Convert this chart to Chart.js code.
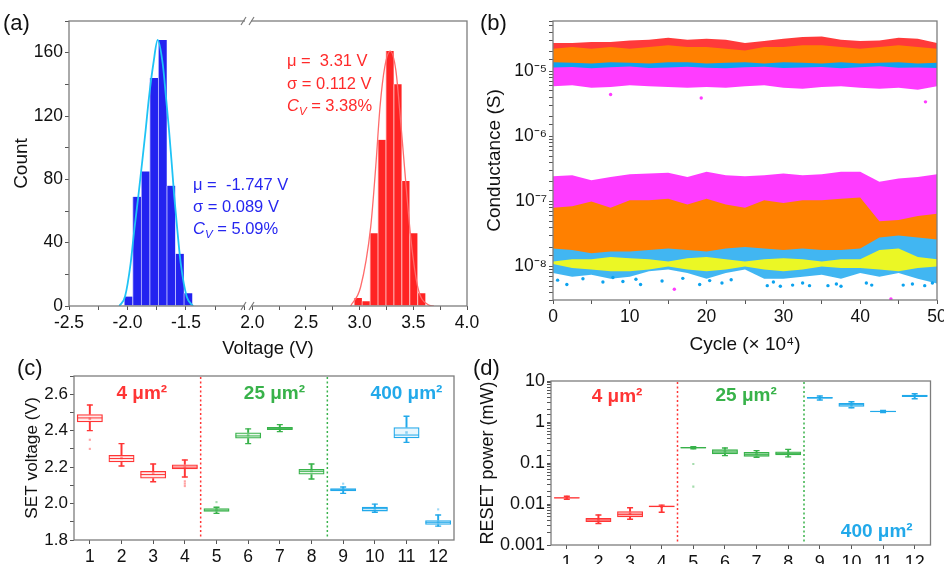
<!DOCTYPE html>
<html lang="en"><head><meta charset="utf-8"><title>Switching statistics</title>
<script src="https://cdn.jsdelivr.net/npm/chart.js@4.4.1/dist/chart.umd.min.js"></script>
<style>
html,body{margin:0;padding:0;background:#fff;}
#wrap{position:relative;width:944px;height:564px;overflow:hidden;background:#fff;font-family:'Liberation Sans',Arial,sans-serif;}
canvas{position:absolute;}
.lbl{position:absolute;font-size:22px;line-height:22px;color:#111;}
</style></head>
<body>
<div id="wrap">
<canvas id="ca" width="490" height="365" style="left:0;top:0;width:490px;height:365px"></canvas>
<canvas id="cb" width="500" height="365" style="left:470px;top:0;width:500px;height:365px"></canvas>
<canvas id="cc" width="470" height="230" style="left:0;top:355px;width:470px;height:230px"></canvas>
<canvas id="cd" width="474" height="230" style="left:470px;top:355px;width:474px;height:230px"></canvas>
<div class="lbl" style="left:3px;top:12px">(a)</div>
<div class="lbl" style="left:480px;top:12px">(b)</div>
<div class="lbl" style="left:17px;top:357px">(c)</div>
<div class="lbl" style="left:473px;top:357px">(d)</div>
</div>
<script>
// ================= DATA =================
// (a) histograms of switching voltages
const aBlueBins   = [-1.993,-1.920,-1.847,-1.774,-1.701,-1.628,-1.555,-1.482];
const aBlueCounts = [6,69,85,144,168,76,33,8];
const aRedBins    = [2.984,3.058,3.132,3.206,3.280,3.354,3.428,3.502,3.576];
const aRedCounts  = [5,3,46,105,161,140,79,46,8];
// (a) fitted curves
const aBlueFitV = [-2.07,-2.021,-1.973,-1.942,-1.908,-1.876,-1.845,-1.816,-1.779,-1.742,-1.699,-1.671,-1.645,-1.622,-1.600,-1.574,-1.545,-1.494,-1.44];
const aBlueFitN = [0,6,27,48,69,90,111,132,153,168,153,132,111,90,69,48,27,6,0];
const aRedFitV  = [2.916,3.009,3.103,3.150,3.190,3.234,3.284,3.337,3.384,3.431,3.478,3.541,3.634,3.69];
const aRedFitN  = [0,12,50,88,126,151,161,149,115,77,42,12,1,0];
const aBlueStats = ['-1.747','0.089','5.09'];
const aRedStats  = ['3.31','0.112','3.38'];
// (a) tick values that carry labels
const aYTicksLabelled = [0,40,80,120,160];
const aXLeftLabelled  = [-2.5,-2.0,-1.5];
const aXRightLabelled = [2.0,2.5,3.0,3.5,4.0];

// (b) conductance bands vs cycle (x 10^4), read as envelopes
const bCycles = [0,2.5,5,7.5,10,12.5,15,17.5,20,22.5,25,27.5,30,32.5,35,37.5,40,42.5,45,47.5,50];
const bLrsRedTop = [2.72e-5,2.72e-5,2.82e-5,2.82e-5,2.99e-5,3.06e-5,3.28e-5,3.06e-5,3.17e-5,3.06e-5,2.72e-5,2.92e-5,3.17e-5,3.36e-5,3.44e-5,3.06e-5,2.92e-5,2.99e-5,3.28e-5,3.17e-5,2.72e-5];
const bLrsRedBot = [2.05e-5,2.10e-5,2.05e-5,2.10e-5,2.10e-5,2.05e-5,2.10e-5,2.10e-5,2.05e-5,2.10e-5,2.00e-5,2.05e-5,2.10e-5,2.10e-5,2.05e-5,2.10e-5,2.05e-5,2.10e-5,2.10e-5,2.05e-5,2.00e-5];
const bLrsOrangeTop = [2.23e-5,2.36e-5,2.23e-5,2.36e-5,2.23e-5,2.36e-5,2.51e-5,2.36e-5,2.36e-5,2.23e-5,2.10e-5,2.36e-5,2.36e-5,2.51e-5,2.51e-5,2.36e-5,2.23e-5,2.36e-5,2.51e-5,2.36e-5,2.23e-5];
const bLrsOrangeBot = [1.38e-5,1.36e-5,1.32e-5,1.38e-5,1.36e-5,1.32e-5,1.38e-5,1.38e-5,1.32e-5,1.36e-5,1.38e-5,1.32e-5,1.38e-5,1.36e-5,1.32e-5,1.38e-5,1.32e-5,1.36e-5,1.38e-5,1.32e-5,1.36e-5];
const bLrsBlueTop = [1.45e-5,1.50e-5,1.40e-5,1.45e-5,1.50e-5,1.40e-5,1.50e-5,1.45e-5,1.40e-5,1.45e-5,1.40e-5,1.45e-5,1.50e-5,1.40e-5,1.45e-5,1.50e-5,1.45e-5,1.60e-5,1.50e-5,1.45e-5,1.40e-5];
const bLrsBlueBot = [1.02e-5,1.00e-5,1.03e-5,1.00e-5,1.02e-5,1.01e-5,1.02e-5,1.00e-5,1.03e-5,1.00e-5,1.02e-5,1.01e-5,1.02e-5,1.00e-5,1.03e-5,1.00e-5,1.02e-5,1.00e-5,1.02e-5,1.01e-5,1.02e-5];
const bLrsMagentaTop = [1.15e-5,1.17e-5,1.12e-5,1.16e-5,1.19e-5,1.13e-5,1.15e-5,1.18e-5,1.14e-5,1.12e-5,1.16e-5,1.18e-5,1.13e-5,1.15e-5,1.17e-5,1.12e-5,1.16e-5,1.20e-5,1.14e-5,1.15e-5,1.13e-5];
const bLrsMagentaBot = [5.89e-6,6.10e-6,5.62e-6,5.75e-6,6.10e-6,5.89e-6,5.75e-6,5.62e-6,5.75e-6,5.62e-6,5.89e-6,6.10e-6,5.62e-6,5.42e-6,5.75e-6,5.89e-6,5.62e-6,5.42e-6,5.62e-6,5.23e-6,5.89e-6];
const bHrsMagentaTop = [2.45e-7,2.54e-7,2.13e-7,2.39e-7,2.63e-7,2.70e-7,2.76e-7,2.39e-7,2.86e-7,2.54e-7,2.45e-7,2.54e-7,2.70e-7,2.54e-7,2.63e-7,2.86e-7,2.86e-7,2.01e-7,2.26e-7,2.39e-7,2.63e-7];
const bHrsMagentaBot = [6.0e-8,6.2e-8,5.8e-8,6.1e-8,6.0e-8,5.9e-8,6.2e-8,6.0e-8,5.8e-8,6.1e-8,6.0e-8,6.2e-8,5.9e-8,6.0e-8,6.1e-8,5.8e-8,5.5e-8,4.4e-8,4.6e-8,5.0e-8,5.5e-8];
const bHrsOrangeTop = [8.0e-8,8.5e-8,1.0e-7,8.0e-8,1.05e-7,1.05e-7,1.10e-7,9.0e-8,1.10e-7,9.0e-8,8.0e-8,1.05e-7,9.5e-8,1.05e-7,1.05e-7,1.10e-7,1.15e-7,5.0e-8,5.2e-8,6.0e-8,6.5e-8];
const bHrsOrangeBot = [1.9e-8,1.8e-8,1.6e-8,1.7e-8,1.7e-8,1.8e-8,1.9e-8,1.8e-8,1.7e-8,1.9e-8,2.0e-8,1.9e-8,1.8e-8,1.9e-8,1.8e-8,1.8e-8,1.9e-8,2.8e-8,3.0e-8,2.8e-8,2.6e-8];
const bHrsYellowTop = [1.20e-8,1.30e-8,1.30e-8,1.40e-8,1.35e-8,1.30e-8,1.20e-8,1.35e-8,1.40e-8,1.30e-8,1.20e-8,1.30e-8,1.35e-8,1.30e-8,1.20e-8,1.30e-8,1.30e-8,1.80e-8,1.90e-8,1.40e-8,1.30e-8];
const bHrsYellowBot = [1.10e-8,9.5e-9,9.0e-9,8.5e-9,8.5e-9,9.0e-9,1.00e-8,9.0e-9,8.5e-9,9.0e-9,1.00e-8,9.0e-9,8.5e-9,9.0e-9,1.00e-8,9.5e-9,9.5e-9,9.0e-9,8.5e-9,9.5e-9,1.00e-8];
const bHrsBlueTop = [3.5e-8,3.5e-8,3.5e-8,3.5e-8,3.5e-8,3.5e-8,3.5e-8,3.5e-8,3.5e-8,3.5e-8,3.5e-8,3.5e-8,3.5e-8,3.5e-8,3.5e-8,3.5e-8,5.5e-8,5.0e-8,5.2e-8,5.6e-8,6.0e-8];
const bHrsBlueBot = [8.0e-9,7.0e-9,7.5e-9,6.5e-9,7.0e-9,8.5e-9,9.0e-9,8.0e-9,6.5e-9,8.0e-9,9.0e-9,6.5e-9,6.5e-9,7.0e-9,7.5e-9,6.5e-9,8.0e-9,7.0e-9,8.0e-9,6.5e-9,5.5e-9];
// (b) isolated points
const bBlueDotCycle = [0.6,1.8,3.9,6.5,7.8,9.1,10.8,11.4,14.2,16.9,19.1,20.4,22.0,23.2,27.9,28.7,29.6,31.2,32.5,33.4,35.8,36.9,37.5,40.8,41.5,45.6,46.8,48.4,49.4];
const bBlueDotG     = [6.2e-9,5.3e-9,6.5e-9,5.8e-9,6.8e-9,5.9e-9,6.4e-9,5.3e-9,6.0e-9,6.6e-9,5.3e-9,6.1e-9,5.6e-9,6.3e-9,5.1e-9,5.8e-9,5.0e-9,5.2e-9,5.6e-9,5.1e-9,5.1e-9,5.4e-9,5.0e-9,5.6e-9,5.2e-9,5.2e-9,5.4e-9,5.1e-9,5.6e-9];
const bMagentaDotCycle = [7.5,19.3,48.5,15.8,44.0];
const bMagentaDotG     = [4.4e-6,3.9e-6,3.4e-6,4.5e-9,3.2e-9];

// (c) SET voltage box plots, devices 1-12
const devLabels = ['1','2','3','4','5','6','7','8','9','10','11','12'];
const devGroup  = [0,0,0,0,1,1,1,1,2,2,2,2];
const cQ1   = [2.446,2.226,2.137,2.188,1.955,2.357,2.404,2.159,2.067,1.957,2.358,1.884];
const cQ3   = [2.490,2.267,2.179,2.215,1.974,2.390,2.420,2.190,2.084,1.983,2.419,1.909];
const cMed  = [2.470,2.247,2.159,2.200,1.964,2.371,2.413,2.177,2.076,1.972,2.376,1.897];
const cMean = [2.465,2.250,2.165,2.198,1.966,2.375,2.414,2.178,2.077,1.972,2.390,1.897];
const cLo   = [2.400,2.206,2.120,2.146,1.946,2.329,2.395,2.135,2.056,1.952,2.336,1.876];
const cHi   = [2.541,2.329,2.217,2.239,1.980,2.410,2.433,2.217,2.091,1.997,2.479,1.937];
const cOutDev = ['1','1','4','4','4','5','9','12'];
const cOutV   = [2.35,2.30,2.122,2.109,2.096,2.008,2.109,1.968];

// (d) RESET power box plots (mW)
const dQ1   = [0.0136,0.00364,0.00473,0.0083,0.226,0.163,0.143,0.154,3.70,2.36,1.73,4.07];
const dQ3   = [0.0146,0.00456,0.00663,0.0092,0.246,0.215,0.185,0.190,4.07,2.91,1.88,4.64];
const dMed  = [0.0141,0.00408,0.0056,0.0087,0.236,0.185,0.163,0.172,3.90,2.64,1.81,4.38];
const dMean = [0.0142,0.0042,0.0058,0.0086,0.236,0.190,0.165,0.172,3.92,2.62,1.82,4.38];
const dLo   = [0.0131,0.00334,0.00424,0.0063,0.222,0.151,0.138,0.141,3.44,2.22,1.70,3.70];
const dHi   = [0.0155,0.00541,0.0081,0.0094,0.250,0.233,0.200,0.215,4.30,3.13,1.92,4.90];
const dOutDev = ['5','5'];
const dOutV   = [0.0946,0.0265];

// ================= STYLE =================
const FONT = "'Liberation Sans', Arial, Helvetica, sans-serif";
Chart.defaults.font.family = FONT;
Chart.defaults.color = '#111';
const FRAME = '#7d7d7d';
const groupColors = ['#ff3535','#38b24a','#22a9ea'];
const C_RED='#ff3a3a', C_ORANGE='#ff8000', C_MAGENTA='#ff3cff', C_BLUE='#0ca2ee', C_YELLOW='#ffff10';
function rgba(hex,a){const n=parseInt(hex.slice(1),16);return `rgba(${n>>16&255},${n>>8&255},${n&255},${a})`;}
const SUP={'-':'\u207B','0':'\u2070','1':'\u00B9','2':'\u00B2','3':'\u00B3','4':'\u2074','5':'\u2075','6':'\u2076','7':'\u2077','8':'\u2078','9':'\u2079'};
function pow10Sup(v){const e=Math.log10(v),r=Math.round(e);if(Math.abs(e-r)>1e-6)return '';return '10'+String(r).split('').map(c=>SUP[c]).join('');}
function pow10Dec(v){const e=Math.log10(v),r=Math.round(e);if(Math.abs(e-r)>1e-6)return '';return r>=0?String(Math.pow(10,r)):Math.pow(10,r).toFixed(-r);}
function grid(){return {drawOnChartArea:false,drawTicks:true,tickLength:4,tickColor:'#555',tickWidth:1,offset:false};}
let pid=0;
function framePlugin(extra){
  return {id:'frame'+(pid++),afterDatasetsDraw(chart){
    const {ctx,chartArea:a}=chart;ctx.save();ctx.strokeStyle=FRAME;ctx.lineWidth=1.3;
    ctx.strokeRect(a.left,a.top,a.right-a.left,a.bottom-a.top);ctx.restore();
    if(extra)extra(chart);}};
}
const base={responsive:false,animation:false,devicePixelRatio:1,plugins:{legend:{display:false},tooltip:{enabled:false}}};

// ================= (a) =================
function drawStats(ctx,x,y0,dy,st,color){
  const f=16.5;ctx.fillStyle=color;ctx.textBaseline='middle';ctx.textAlign='left';
  ctx.font=`${f}px ${FONT}`;
  ctx.fillText('\u03BC =  '+st[0]+' V',x,y0);
  ctx.fillText('\u03C3 = '+st[1]+' V',x,y0+dy);
  const y=y0+2*dy;ctx.font=`italic ${f}px ${FONT}`;ctx.fillText('C',x,y);
  const w=ctx.measureText('C').width;ctx.font=`italic 11.5px ${FONT}`;ctx.fillText('V',x+w,y+5);
  const w2=ctx.measureText('V').width;ctx.font=`${f}px ${FONT}`;ctx.fillText(' = '+st[2]+'%',x+w+w2,y);
}
const aExtra=(chart)=>{
  const ctx=chart.ctx,a=chart.chartArea,s=chart.scales,bx=s.xL.right;
  ctx.save();
  [a.top,a.bottom].forEach(y=>{
    ctx.fillStyle='#fff';ctx.fillRect(bx-3,y-2,6,4);
    ctx.strokeStyle=FRAME;ctx.lineWidth=1.2;ctx.beginPath();
    ctx.moveTo(bx-7,y+4);ctx.lineTo(bx-2,y-4);ctx.moveTo(bx+1,y+4);ctx.lineTo(bx+6,y-4);ctx.stroke();
  });
  const yb=s.y.getPixelForValue(76.4),yr=s.y.getPixelForValue(154.3),dy=s.y.getPixelForValue(0)-s.y.getPixelForValue(14.1);
  drawStats(ctx,s.xL.getPixelForValue(-1.44),yb,dy,aBlueStats,'#2626f0');
  drawStats(ctx,s.xR.getPixelForValue(2.323),yr,dy,aRedStats,'#ff2a2a');
  ctx.restore();
};
const labelIf=list=>v=>list.some(t=>Math.abs(t-v)<1e-6)?v.toFixed(1):'';
new Chart(document.getElementById('ca'),{
  type:'bar',
  data:{datasets:[
    {type:'line',xAxisID:'xL',yAxisID:'y',data:aBlueFitV.map((v,i)=>({x:v,y:aBlueFitN[i]})),borderColor:'#1fc3f5',borderWidth:1.8,pointRadius:0,cubicInterpolationMode:'monotone',fill:false},
    {type:'line',xAxisID:'xR',yAxisID:'y',data:aRedFitV.map((v,i)=>({x:v,y:aRedFitN[i]})),borderColor:'#ff6b6b',borderWidth:1.3,pointRadius:0,cubicInterpolationMode:'monotone',fill:false},
    {type:'bar',xAxisID:'xL',yAxisID:'y',data:aBlueBins.map((v,i)=>({x:v,y:aBlueCounts[i]})),backgroundColor:'#2323f0',borderColor:'rgba(185,185,255,0.95)',borderWidth:{left:1,right:0,top:0,bottom:0},barPercentage:1,categoryPercentage:1,grouped:false},
    {type:'bar',xAxisID:'xR',yAxisID:'y',data:aRedBins.map((v,i)=>({x:v,y:aRedCounts[i]})),backgroundColor:'#ff2424',borderColor:'rgba(255,190,190,0.95)',borderWidth:{left:1,right:0,top:0,bottom:0},barPercentage:1,categoryPercentage:1,grouped:false}
  ]},
  options:Object.assign({},base,{
    layout:{padding:{left:0,top:21,right:23,bottom:0}},
    scales:{
      xL:{type:'linear',position:'bottom',stack:'v',stackWeight:179,weight:0,min:-2.5,max:-0.97,offset:false,grid:grid(),border:{display:false},
        ticks:{stepSize:0.25,includeBounds:false,autoSkip:false,maxRotation:0,padding:3,color:'#111',font:{size:17.5},callback:labelIf(aXLeftLabelled)},afterFit:s=>{s.height=26;}},
      xR:{type:'linear',position:'bottom',stack:'v',stackWeight:219,weight:0,min:1.96,max:4.0,offset:false,grid:grid(),border:{display:false},
        ticks:{stepSize:0.25,includeBounds:false,autoSkip:false,maxRotation:0,padding:3,color:'#111',font:{size:17.5},callback:labelIf(aXRightLabelled)},afterFit:s=>{s.height=26;}},
      xT:{type:'linear',position:'bottom',weight:1,grid:{display:false},border:{display:false},ticks:{display:false},
        title:{display:true,text:'Voltage (V)',color:'#111',font:{size:18.5},padding:{top:0,bottom:5}},afterFit:s=>{s.height=33;}},
      y:{type:'linear',position:'left',min:0,max:180,grid:grid(),border:{display:false},
        ticks:{stepSize:20,autoSkip:false,padding:2,color:'#111',font:{size:17.5},callback:v=>aYTicksLabelled.includes(v)?String(v):''},
        title:{display:true,text:'Count',color:'#111',font:{size:19},padding:{top:10,bottom:0}},afterFit:s=>{s.width=69;}}
    }
  }),
  plugins:[framePlugin(aExtra)]
});

// ================= (b) =================
const pts=(xs,ys)=>xs.map((x,i)=>({x,y:ys[i]}));
const bands=[ // first = drawn on top
  [bLrsOrangeTop,bLrsOrangeBot,C_ORANGE],
  [bLrsRedTop,bLrsRedBot,C_RED],
  [bLrsMagentaTop,bLrsMagentaBot,C_MAGENTA],
  [bLrsBlueTop,bLrsBlueBot,C_BLUE],
  [bHrsOrangeTop,bHrsOrangeBot,C_ORANGE],
  [bHrsMagentaTop,bHrsMagentaBot,C_MAGENTA],
  [bHrsYellowTop,bHrsYellowBot,rgba(C_YELLOW,0.9)],
  [bHrsBlueTop,bHrsBlueBot,rgba(C_BLUE,0.78)]
];
const bDatasets=[
  {type:'line',data:pts(bBlueDotCycle,bBlueDotG),showLine:false,pointRadius:1.7,pointBackgroundColor:C_BLUE,pointBorderWidth:0},
  {type:'line',data:pts(bMagentaDotCycle,bMagentaDotG),showLine:false,pointRadius:1.7,pointBackgroundColor:C_MAGENTA,pointBorderWidth:0}
];
bands.forEach(([top,bot,col])=>{
  bDatasets.push({type:'line',data:pts(bCycles,top),fill:'+1',backgroundColor:col,borderWidth:0,pointRadius:0,tension:0});
  bDatasets.push({type:'line',data:pts(bCycles,bot),fill:false,borderWidth:0,pointRadius:0,tension:0});
});
new Chart(document.getElementById('cb'),{
  type:'line',
  data:{datasets:bDatasets},
  options:Object.assign({},base,{
    layout:{padding:{left:0,top:21,right:33,bottom:0}},
    scales:{
      x:{type:'linear',position:'bottom',min:0,max:50,grid:grid(),border:{display:false},
        ticks:{stepSize:5,autoSkip:false,maxRotation:0,padding:3,color:'#111',font:{size:17.5},callback:v=>v%10===0?String(v):''},
        title:{display:true,text:'Cycle (\u00D7 10\u2074)',color:'#111',font:{size:19},padding:{top:0,bottom:9}},afterFit:s=>{s.height=65;}},
      y:{type:'logarithmic',position:'left',min:3.07e-9,max:5.94e-5,grid:grid(),border:{display:false},
        ticks:{autoSkip:false,padding:2,color:'#111',font:{size:17.5},callback:v=>pow10Sup(v)},
        title:{display:true,text:'Conductance (S)',color:'#111',font:{size:19},padding:{top:13.5,bottom:0}},afterFit:s=>{s.width=83;}}
    }
  }),
  plugins:[framePlugin()]
});

// ================= (c) & (d) box plots =================
function boxDatasets(q1,q3,med,mean,lo,hi,outDev,outV,fillA,meanA){
  const col=devGroup.map(g=>groupColors[g]);
  const outCol=outDev.map(d=>rgba(groupColors[devGroup[devLabels.indexOf(d)]],0.45));
  return [
    {type:'line',data:outDev.map((d,i)=>({x:d,y:outV[i]})),showLine:false,pointStyle:'rect',pointRadius:1.5,pointBackgroundColor:outCol,pointBorderWidth:0},
    {type:'line',data:mean,showLine:false,pointStyle:'rect',pointRadius:1.8,pointBackgroundColor:col.map(c=>rgba(c,meanA)),pointBorderWidth:0},
    {type:'line',data:med,showLine:false,pointStyle:'line',pointRadius:12.5,pointBorderColor:col,pointBorderWidth:1},
    {type:'line',data:hi,showLine:false,pointStyle:'line',pointRadius:3,pointBorderColor:col,pointBorderWidth:1.4},
    {type:'line',data:lo,showLine:false,pointStyle:'line',pointRadius:3,pointBorderColor:col,pointBorderWidth:1.4},
    {type:'bar',data:q1.map((v,i)=>[v,q3[i]]),backgroundColor:col.map(c=>rgba(c,fillA)),borderColor:col,borderWidth:1.3,borderSkipped:false,barPercentage:0.82,categoryPercentage:1,grouped:false},
    {type:'bar',data:lo.map((v,i)=>[v,q1[i]]),backgroundColor:col,barThickness:1.3,grouped:false},
    {type:'bar',data:q3.map((v,i)=>[v,hi[i]]),backgroundColor:col,barThickness:1.3,grouped:false}
  ];
}
function dividerAndText(texts){
  return (chart)=>{
    const ctx=chart.ctx,a=chart.chartArea,sx=chart.scales.x,sy=chart.scales.y;
    ctx.save();ctx.lineWidth=1.5;ctx.setLineDash([2,2.5]);
    [[3.5,groupColors[0]],[7.5,groupColors[1]]].forEach(([v,c])=>{
      const x=sx.getPixelForValue(v);ctx.strokeStyle=c;ctx.beginPath();ctx.moveTo(x,a.top+1);ctx.lineTo(x,a.bottom-1);ctx.stroke();});
    ctx.setLineDash([]);ctx.font=`bold 19px ${FONT}`;ctx.textAlign='center';ctx.textBaseline='middle';
    texts.forEach(t=>{ctx.fillStyle=groupColors[t.g];ctx.fillText(t.s,sx.getPixelForValue(t.i),sy.getPixelForValue(t.v));});
    ctx.restore();
  };
}
new Chart(document.getElementById('cc'),{
  type:'bar',
  data:{labels:devLabels,datasets:boxDatasets(cQ1,cQ3,cMed,cMean,cLo,cHi,cOutDev,cOutV,0.1,0.5)},
  options:Object.assign({},base,{
    layout:{padding:{left:0,top:21,right:16,bottom:0}},
    scales:{
      x:{type:'category',offset:true,grid:grid(),border:{display:false},
        ticks:{autoSkip:false,maxRotation:0,padding:3,color:'#111',font:{size:17.5}},afterFit:s=>{s.height=45;}},
      y:{type:'linear',min:1.8,max:2.7,grid:grid(),border:{display:false},
        ticks:{stepSize:0.1,autoSkip:false,padding:2,color:'#111',font:{size:17},callback:v=>{const k=Math.round(v*10);return (k%2===0&&k<=26)?(k/10).toFixed(1):'';}},
        title:{display:true,text:'SET voltage (V)',color:'#111',font:{size:17.2},padding:{top:21.5,bottom:0}},afterFit:s=>{s.width=74;}}
    }
  }),
  plugins:[framePlugin(dividerAndText([{s:'4 \u03BCm\u00B2',g:0,i:1.64,v:2.604},{s:'25 \u03BCm\u00B2',g:1,i:5.83,v:2.604},{s:'400 \u03BCm\u00B2',g:2,i:10.0,v:2.604}]))]
});
new Chart(document.getElementById('cd'),{
  type:'bar',
  data:{labels:devLabels,datasets:boxDatasets(dQ1,dQ3,dMed,dMean,dLo,dHi,dOutDev,dOutV,0.38,0.7)},
  options:Object.assign({},base,{
    layout:{padding:{left:0,top:26,right:11,bottom:0}},
    scales:{
      x:{type:'category',offset:true,grid:grid(),border:{display:false},
        ticks:{autoSkip:false,maxRotation:0,padding:3,color:'#111',font:{size:18}},afterFit:s=>{s.height=40;}},
      y:{type:'logarithmic',min:0.001,max:10,grid:grid(),border:{display:false},
        ticks:{autoSkip:false,padding:2,color:'#111',font:{size:18},callback:v=>pow10Dec(v)},
        title:{display:true,text:'RESET power (mW)',color:'#111',font:{size:18},padding:{top:7.5,bottom:0}},afterFit:s=>{s.width=81;}}
    }
  }),
  plugins:[framePlugin(dividerAndText([{s:'4 \u03BCm\u00B2',g:0,i:1.59,v:4.1},{s:'25 \u03BCm\u00B2',g:1,i:5.67,v:4.3},{s:'400 \u03BCm\u00B2',g:2,i:9.8,v:0.0021}]))]
});
</script>
</body></html>
